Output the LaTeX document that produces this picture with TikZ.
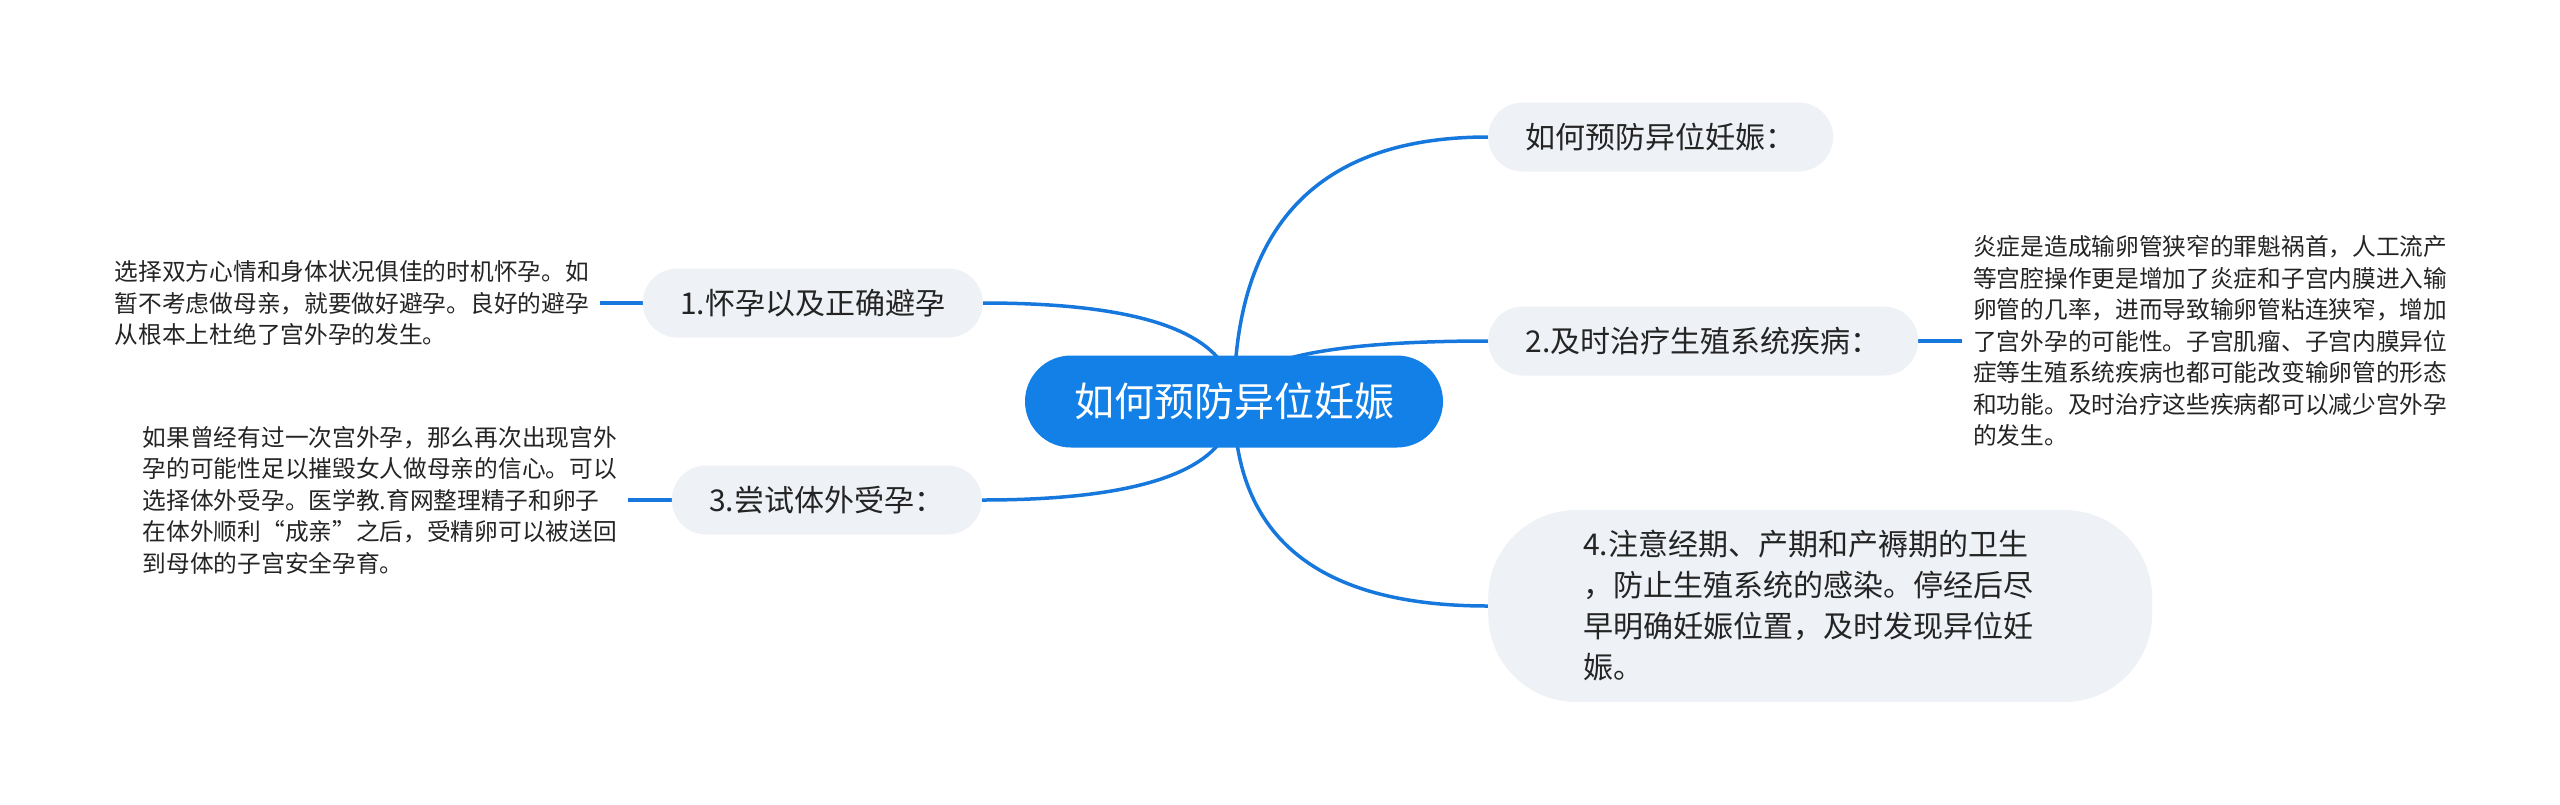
\documentclass[tikz,border=0pt]{standalone}
\usepackage{fontspec}
\setmainfont{Noto Sans CJK SC}
\usetikzlibrary{calc,backgrounds}
\definecolor{rootblue}{RGB}{18,128,230}
\definecolor{linkblue}{RGB}{22,120,220}
\definecolor{topicgray}{RGB}{238,241,245}
\definecolor{inkgray}{RGB}{36,36,36}

\begin{document}
\begin{tikzpicture}[x=1pt,y=-1pt,
  rootbox/.style={fill=rootblue,text=white,rounded corners=46pt,minimum width=418pt,minimum height=92pt,inner xsep=0pt,font=\fontsize{40}{48}\selectfont},
  topicbox/.style={fill=topicgray,text=inkgray,rounded corners=34.5pt,minimum height=69pt,inner xsep=37.5pt,font=\fontsize{30}{36}\selectfont},
  widebox/.style={topicbox,rounded corners=88pt,text width=474pt,minimum height=192pt,inner xsep=95pt,align=left,font=\fontsize{30}{41}\selectfont},
  leaftext/.style={text=inkgray,align=left,inner xsep=11pt,inner ysep=0pt,font=\fontsize{23.7}{31.5}\selectfont},
  link/.style={draw=linkblue,line width=3.5pt}]
  \useasboundingbox (0,0) rectangle (2560,804);

  \node[rootbox] (root) at (1234,401.5) {如何预防异位妊娠};

  \node[topicbox,anchor=west] (t0) at (1488,137) {如何预防异位妊娠：};
  \node[topicbox,anchor=east] (t1) at (983,303) {1.怀孕以及正确避孕};
  \node[topicbox,anchor=west] (t2) at (1488,341) {2.及时治疗生殖系统疾病：};
  \node[topicbox,anchor=east] (t3) at (982,500) {3.尝试体外受孕：};
  \node[widebox,anchor=west] (t4) at (1488,606) {4.注意经期、产期和产褥期的卫生\\，防止生殖系统的感染。停经后尽\\早明确妊娠位置，及时发现异位妊\\娠。};

  \node[leaftext,anchor=east] (l1) at (600,303) {选择双方心情和身体状况俱佳的时机怀孕。如\\暂不考虑做母亲，就要做好避孕。良好的避孕\\从根本上杜绝了宫外孕的发生。};
  \node[leaftext,anchor=west] (l2) at (1962,341) {炎症是造成输卵管狭窄的罪魁祸首，人工流产\\等宫腔操作更是增加了炎症和子宫内膜进入输\\卵管的几率，进而导致输卵管粘连狭窄，增加\\了宫外孕的可能性。子宫肌瘤、子宫内膜异位\\症等生殖系统疾病也都可能改变输卵管的形态\\和功能。及时治疗这些疾病都可以减少宫外孕\\的发生。};
  \node[leaftext,anchor=east] (l3) at (628,500) {如果曾经有过一次宫外孕，那么再次出现宫外\\孕的可能性足以摧毁女人做母亲的信心。可以\\选择体外受孕。医学教.育网整理精子和卵子\\在体外顺利“成亲”之后，受精卵可以被送回\\到母体的子宫安全孕育。};

  \begin{scope}[on background layer]
    \foreach \t/\a in {t0/west,t1/east,t2/west,t3/east,t4/west}{%
      \coordinate (bend) at (root.center |- \t.\a);
      \draw[link] (root.center) .. controls ($(root.center)!0.667!(bend)$) and ($(\t.\a)!0.667!(bend)$) .. (\t.\a);
    }
    \draw[link] (t1.west) -- (l1.east);
    \draw[link] (t2.east) -- (l2.west);
    \draw[link] (t3.west) -- (l3.east);
  \end{scope}
\end{tikzpicture}
\end{document}
